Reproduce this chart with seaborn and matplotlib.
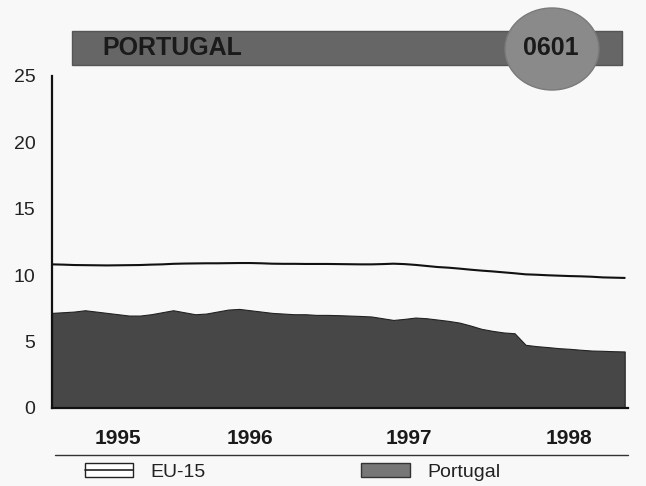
import numpy as np
import pandas as pd
import seaborn as sns
import matplotlib.pyplot as plt
from matplotlib.patches import Rectangle, Ellipse
from matplotlib.lines import Line2D
from matplotlib.legend_handler import HandlerTuple

# monthly values
portugal = [7.15, 7.2, 7.25, 7.35, 7.25, 7.15, 7.05, 6.95, 6.95, 7.05,
            7.2, 7.35, 7.2, 7.05, 7.1, 7.25, 7.4, 7.45, 7.35, 7.25,
            7.15, 7.1, 7.05, 7.05, 7.0, 7.0, 6.98, 6.95, 6.92, 6.88,
            6.75, 6.62, 6.7, 6.8, 6.75, 6.65, 6.55, 6.42, 6.2, 5.95,
            5.8, 5.68, 5.62, 4.75, 4.65, 4.58, 4.5, 4.45, 4.38, 4.32,
            4.3, 4.27, 4.25]
eu15 = [10.8, 10.78, 10.75, 10.74, 10.73, 10.72, 10.73, 10.74, 10.75, 10.78,
        10.8, 10.84, 10.86, 10.87, 10.88, 10.88, 10.89, 10.9, 10.9, 10.88,
        10.85, 10.84, 10.84, 10.83, 10.83, 10.83, 10.82, 10.81, 10.8, 10.8,
        10.82, 10.85, 10.82, 10.76, 10.68, 10.6, 10.55, 10.48, 10.4, 10.33,
        10.27, 10.2, 10.13, 10.05, 10.02, 9.98, 9.95, 9.92, 9.9, 9.87,
        9.82, 9.8, 9.78]
months = list(range(len(portugal)))
years = ["1995", "1996", "1997", "1998"]
year_pos = [6, 18, 32.4, 46.9]
yticks = [0, 5, 10, 15, 20, 25]

df = pd.DataFrame({"month": months, "EU-15": eu15, "Portugal": portugal})

sns.set_style("white")
plt.rcParams['font.family'] = ['Liberation Sans', 'DejaVu Sans']

W, H = 646, 486
fig = plt.figure(figsize=(W / 100, H / 100), dpi=100)
fig.patch.set_facecolor("#f8f8f8")
ax = fig.add_axes([52 / W, 1 - 408 / H, (628 - 52) / W, (408 - 75.5) / H])
ax.set_facecolor("#f8f8f8")

ax.fill_between(df["month"], 0, df["Portugal"], color="#474747", lw=0.8,
                edgecolor="#222222")
sns.lineplot(data=df, x="month", y="EU-15", ax=ax, color="#111111", lw=1.5)

ax.set_xlim(0, 52.3)
ax.set_ylim(0, 25)
ax.set_yticks(yticks)
ax.set_yticklabels([str(v) for v in yticks], fontsize=14, color="#222222")
ax.set_xticks(year_pos)
ax.set_xticklabels(years, fontsize=15, fontweight="bold", color="#1a1a1a")
ax.set_xticks(np.arange(0, 53, 2), minor=True)
ax.tick_params(axis="y", direction="in", length=5, width=1.5, pad=12)
ax.tick_params(axis="x", which="major", length=0, pad=15)
ax.tick_params(axis="x", which="minor", direction="inout", length=3, width=1)
ax.set_xlabel("")
ax.set_ylabel("")
sns.despine(ax=ax)
for s in ["left", "bottom"]:
    ax.spines[s].set_linewidth(1.6)
    ax.spines[s].set_color("#111111")

# title bar
tf = fig.transFigure
fig.add_artist(Rectangle((72 / W, 1 - 65 / H), (622 - 72) / W, 34 / H,
                         transform=tf, facecolor="#666666", edgecolor="#555555", lw=1))
fig.add_artist(Ellipse((552 / W, 1 - 49 / H), 94 / W, 82 / H,
                       transform=tf, facecolor="#8a8a8a", edgecolor="#7a7a7a", lw=1))
fig.text(102 / W, 1 - 48 / H, "PORTUGAL", fontsize=18, fontweight="bold",
         color="#1a1a1a", va="center", ha="left")
fig.text(551 / W, 1 - 48 / H, "0601", fontsize=18, fontweight="bold",
         color="#1a1a1a", va="center", ha="center")

# separator line and legend
fig.add_artist(Line2D([55 / W, 628 / W], [1 - 455 / H, 1 - 455 / H],
                      transform=tf, color="#333333", lw=1))
h_eu = (Rectangle((0, 0), 1, 1, facecolor="white", edgecolor="#222222", lw=1),
        Line2D([0], [0], color="#222222", lw=1.2))
h_pt = Rectangle((0, 0), 1, 1, facecolor="#777777", edgecolor="#333333", lw=1)
fig.legend([h_eu, h_pt], ["EU-15", "Portugal"],
           handler_map={tuple: HandlerTuple(ndivide=1, pad=0)},
           loc="center left", bbox_to_anchor=(67 / W, 1 - 472 / H),
           ncol=2, frameon=False, fontsize=14, handlelength=2.5,
           handleheight=0.72, columnspacing=8.0, handletextpad=0.9,
           labelcolor="#222222")

fig.savefig("out.png", dpi=100, facecolor=fig.get_facecolor())
